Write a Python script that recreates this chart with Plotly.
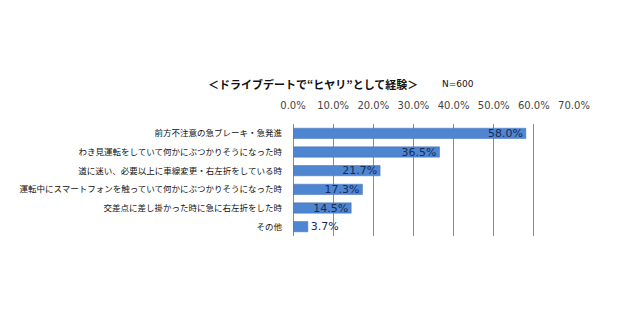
import plotly.graph_objects as go

categories = [
    "前方不注意の急ブレーキ・急発進",
    "わき見運転をしていて何かにぶつかりそうになった時",
    "道に迷い、必要以上に車線変更・右左折をしている時",
    "運転中にスマートフォンを触っていて何かにぶつかりそうになった時",
    "交差点に差し掛かった時に急に右左折をした時",
    "その他",
]
values = [58.0, 36.5, 21.7, 17.3, 14.5, 3.7]
tick_vals = [0, 10, 20, 30, 40, 50, 60, 70]
title_text = "＜ドライブデートで“ヒヤリ”として経験＞"
n_text = "N=600"

font_jp = "Noto Sans CJK JP"

L, R, T, B = 293, 66, 124, 84
pw = 640 - L - R
ph = 320 - T - B

fig = go.Figure()
fig.add_trace(go.Bar(
    y=categories,
    x=values,
    orientation="h",
    width=0.55,
    marker=dict(color="#4f86d1", line=dict(color="#3d6fb5", width=0.5)),
    text=[f"{v:.1f}%" for v in values],
    textposition=["inside" if v > 10 else "outside" for v in values],
    insidetextanchor="end",
    constraintext="none",
    cliponaxis=False,
    textfont=dict(family="DejaVu Sans", size=11, color="#1a2a55"),
    outsidetextfont=dict(family="DejaVu Sans", size=11, color="#1a2a55"),
))

def px_x(x):
    return (x - L) / pw

def px_y(y):
    return (320 - B - y) / ph

fig.update_layout(
    width=640, height=320,
    margin=dict(l=L, r=R, t=T, b=B),
    paper_bgcolor="white",
    plot_bgcolor="white",
    showlegend=False,
    font=dict(family=font_jp, size=9, color="#111111"),
    annotations=[
        dict(text="<b>" + title_text + "</b>", x=px_x(313), y=px_y(84), xref="paper", yref="paper",
             showarrow=False, font=dict(family=font_jp, size=11, color="#111111"),
             xanchor="center", yanchor="middle"),
        dict(text=n_text, x=px_x(458), y=px_y(84), xref="paper", yref="paper",
             showarrow=False, font=dict(family="DejaVu Sans", size=9, color="#111111"),
             xanchor="center", yanchor="middle"),
    ],
)
fig.update_xaxes(
    range=[0, 70],
    side="top",
    tickvals=tick_vals,
    ticktext=[f"{t:.1f}%" for t in tick_vals],
    showgrid=True, gridcolor="#8c8c8c", gridwidth=1,
    zeroline=True, zerolinecolor="#8c8c8c", zerolinewidth=1,
    tickfont=dict(family="DejaVu Sans", size=10, color="#444444"),
    ticks="", ticklabelstandoff=12,
    automargin=False,
    fixedrange=True,
)
fig.update_yaxes(
    autorange="reversed",
    tickfont=dict(family=font_jp, size=8.5, color="#111111"),
    ticks="", ticklabelstandoff=10,
    showgrid=False,
    automargin=False,
)
fig.write_html("out.html")
